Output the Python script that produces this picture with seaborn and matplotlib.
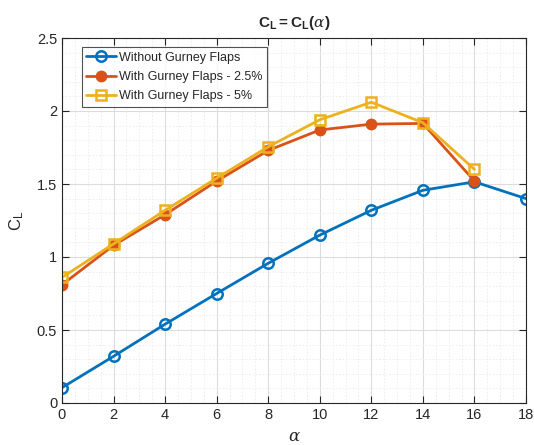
import numpy as np
import pandas as pd
import matplotlib
matplotlib.use("Agg")
import matplotlib.pyplot as plt
import seaborn as sns
from matplotlib.ticker import MultipleLocator

alpha_base = [0, 2, 4, 6, 8, 10, 12, 14, 16, 18]
cl_base = [0.105, 0.32, 0.54, 0.75, 0.957, 1.15, 1.32, 1.457, 1.515, 1.40]
alpha_gf = [0, 2, 4, 6, 8, 10, 12, 14, 16]
cl_gf25 = [0.81, 1.08, 1.29, 1.52, 1.73, 1.87, 1.91, 1.915, 1.52]
cl_gf5 = [0.86, 1.09, 1.32, 1.54, 1.755, 1.94, 2.06, 1.92, 1.60]
labels = ["Without Gurney Flaps", "With Gurney Flaps - 2.5%", "With Gurney Flaps - 5%"]

sns.set_style("white")
plt.rcParams['font.family'] = ['Liberation Sans', 'DejaVu Sans']
plt.rcParams['mathtext.fontset'] = 'custom'
plt.rcParams['mathtext.rm'] = 'Liberation Sans'
plt.rcParams['mathtext.it'] = 'DejaVu Serif:italic'
plt.rcParams['mathtext.bf'] = 'Liberation Sans:bold'

fig = plt.figure(figsize=(5.34, 4.45), dpi=100)
ax = fig.add_axes([62/534, 42/445, 464/534, 365/445])

c1, c2, c3 = "#0072BD", "#D95319", "#EDB120"
sns.lineplot(x=alpha_base, y=cl_base, ax=ax, color=c1, lw=2, marker='o', ms=7.5,
             mfc='none', mec=c1, mew=1.8, label=labels[0])
sns.lineplot(x=alpha_gf, y=cl_gf25, ax=ax, color=c2, lw=2, marker='o', ms=7,
             mfc=c2, mec=c2, mew=1.5, label=labels[1])
sns.lineplot(x=alpha_gf, y=cl_gf5, ax=ax, color=c3, lw=2, marker='s', ms=7,
             mfc='none', mec=c3, mew=1.8, label=labels[2])

ax.set_xlim(0, 18)
ax.set_ylim(0, 2.5)
ax.xaxis.set_major_locator(MultipleLocator(2))
ax.xaxis.set_minor_locator(MultipleLocator(0.5))
ax.yaxis.set_minor_locator(MultipleLocator(0.1))
ax.set_yticks([0, 0.5, 1, 1.5, 2, 2.5])
ax.set_yticklabels(['0', '0.5', '1', '1.5', '2', '2.5'])
ax.grid(which='major', color='#DCDCDC', lw=0.8)
ax.grid(which='minor', color='#ECECEC', lw=0.6, ls=(0, (2, 2)))
ax.set_axisbelow(True)
for s in ax.spines.values():
    s.set_color('#262626')
    s.set_linewidth(0.8)
ax.tick_params(which='major', direction='in', length=5, color='#262626',
               labelsize=10.5, labelcolor='#262626', top=True, right=True,
               bottom=True, left=True)
ax.tick_params(which='minor', length=0)

ax.set_title(r'$\mathbf{C_L}$$\mathbf{=}$$\mathbf{C_L}$$\mathbf{(}$$\alpha$$\mathbf{)}$',
             fontsize=11, pad=8)
ax.set_ylabel(r'C$_\mathrm{L}$', fontsize=12, labelpad=8)
ax.set_xlabel(r'$\alpha$', fontsize=12, labelpad=5)

leg = ax.legend(loc='upper left', bbox_to_anchor=(0.043, 0.975), borderaxespad=0,
                fontsize=9, frameon=True, fancybox=False, edgecolor='#262626',
                handlelength=2.4, borderpad=0.35, labelspacing=0.6,
                handletextpad=0.25)
leg.get_frame().set_linewidth(0.8)

fig.savefig("out.png", dpi=100)
